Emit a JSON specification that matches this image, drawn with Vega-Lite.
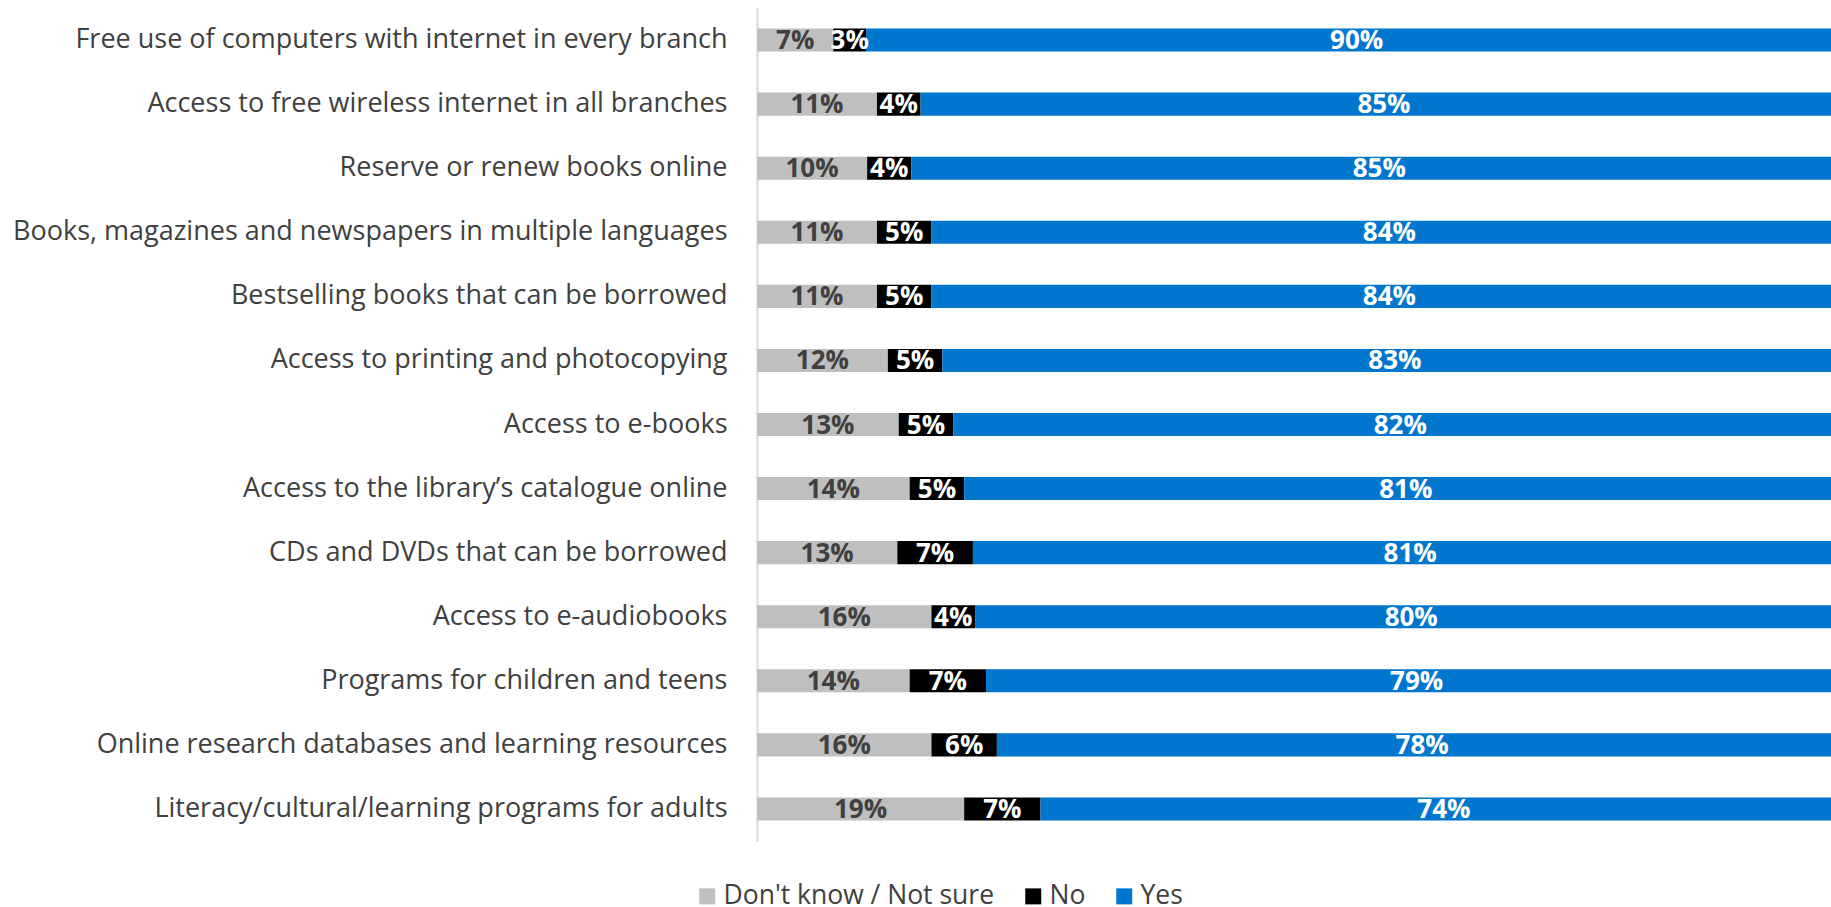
{
  "$schema": "https://vega.github.io/schema/vega-lite/v6.json",
  "autosize": {"type": "none"},
  "padding": {"left": 757, "top": 8, "right": 0, "bottom": 66},
  "width": 1074,
  "height": 833,
  "background": "white",
  "config": {
    "view": {"stroke": null},
    "font": "Open Sans"
  },
  "data": {
    "values": [
      {"item": "Free use of computers with internet in every branch", "answer": "Don't know / Not sure", "value": 0.07},
      {"item": "Free use of computers with internet in every branch", "answer": "No", "value": 0.03},
      {"item": "Free use of computers with internet in every branch", "answer": "Yes", "value": 0.90},
      {"item": "Access to free wireless internet in all branches", "answer": "Don't know / Not sure", "value": 0.11},
      {"item": "Access to free wireless internet in all branches", "answer": "No", "value": 0.04},
      {"item": "Access to free wireless internet in all branches", "answer": "Yes", "value": 0.85},
      {"item": "Reserve or renew books online", "answer": "Don't know / Not sure", "value": 0.10},
      {"item": "Reserve or renew books online", "answer": "No", "value": 0.04},
      {"item": "Reserve or renew books online", "answer": "Yes", "value": 0.85},
      {"item": "Books, magazines and newspapers in multiple languages", "answer": "Don't know / Not sure", "value": 0.11},
      {"item": "Books, magazines and newspapers in multiple languages", "answer": "No", "value": 0.05},
      {"item": "Books, magazines and newspapers in multiple languages", "answer": "Yes", "value": 0.84},
      {"item": "Bestselling books that can be borrowed", "answer": "Don't know / Not sure", "value": 0.11},
      {"item": "Bestselling books that can be borrowed", "answer": "No", "value": 0.05},
      {"item": "Bestselling books that can be borrowed", "answer": "Yes", "value": 0.84},
      {"item": "Access to printing and photocopying", "answer": "Don't know / Not sure", "value": 0.12},
      {"item": "Access to printing and photocopying", "answer": "No", "value": 0.05},
      {"item": "Access to printing and photocopying", "answer": "Yes", "value": 0.83},
      {"item": "Access to e-books", "answer": "Don't know / Not sure", "value": 0.13},
      {"item": "Access to e-books", "answer": "No", "value": 0.05},
      {"item": "Access to e-books", "answer": "Yes", "value": 0.82},
      {"item": "Access to the library’s catalogue online", "answer": "Don't know / Not sure", "value": 0.14},
      {"item": "Access to the library’s catalogue online", "answer": "No", "value": 0.05},
      {"item": "Access to the library’s catalogue online", "answer": "Yes", "value": 0.81},
      {"item": "CDs and DVDs that can be borrowed", "answer": "Don't know / Not sure", "value": 0.13},
      {"item": "CDs and DVDs that can be borrowed", "answer": "No", "value": 0.07},
      {"item": "CDs and DVDs that can be borrowed", "answer": "Yes", "value": 0.81},
      {"item": "Access to e-audiobooks", "answer": "Don't know / Not sure", "value": 0.16},
      {"item": "Access to e-audiobooks", "answer": "No", "value": 0.04},
      {"item": "Access to e-audiobooks", "answer": "Yes", "value": 0.80},
      {"item": "Programs for children and teens", "answer": "Don't know / Not sure", "value": 0.14},
      {"item": "Programs for children and teens", "answer": "No", "value": 0.07},
      {"item": "Programs for children and teens", "answer": "Yes", "value": 0.79},
      {"item": "Online research databases and learning resources", "answer": "Don't know / Not sure", "value": 0.16},
      {"item": "Online research databases and learning resources", "answer": "No", "value": 0.06},
      {"item": "Online research databases and learning resources", "answer": "Yes", "value": 0.78},
      {"item": "Literacy/cultural/learning programs for adults ", "answer": "Don't know / Not sure", "value": 0.19},
      {"item": "Literacy/cultural/learning programs for adults ", "answer": "No", "value": 0.07},
      {"item": "Literacy/cultural/learning programs for adults ", "answer": "Yes", "value": 0.74}
    ]
  },
  "transform": [
    {"stack": "value", "groupby": ["item"], "sort": [{"field": "answer", "order": "ascending"}], "offset": "normalize", "as": ["x0", "x1"]},
    {"calculate": "(datum.x0 + datum.x1) / 2", "as": "mid"}
  ],
  "encoding": {
    "y": {
      "field": "item",
      "type": "nominal",
      "sort": null,
      "scale": {"paddingInner": 0.64, "paddingOuter": 0.32},
      "axis": {
        "title": null,
        "ticks": false,
        "labelFontSize": 27,
        "labelColor": "#404040",
        "labelPadding": 30,
        "labelLimit": 0,
        "domain": true,
        "domainColor": "#D9D9D9",
        "domainWidth": 2
      }
    }
  },
  "layer": [
    {
      "mark": {"type": "bar", "clip": true},
      "encoding": {
        "x": {"field": "x0", "type": "quantitative", "scale": {"domain": [0, 0.985], "nice": false, "zero": true}, "axis": null},
        "x2": {"field": "x1"},
        "color": {
          "field": "answer",
          "type": "nominal",
          "scale": {"domain": ["Don't know / Not sure", "No", "Yes"], "range": ["#BFBFBF", "#000000", "#0176CE"]},
          "legend": {
            "title": null,
            "orient": "none",
            "legendX": -63,
            "legendY": 875,
            "direction": "horizontal",
            "symbolType": "square",
            "symbolSize": 256,
            "symbolStrokeWidth": 0,
            "labelFontSize": 26.5,
            "labelLimit": 0,
            "labelColor": "#404040",
            "labelOffset": 3,
            "columnPadding": 25,
            "padding": 0
          }
        }
      }
    },
    {
      "mark": {"type": "text", "fontSize": 26, "fontWeight": "bold", "align": "center", "baseline": "middle", "dy": 1},
      "encoding": {
        "x": {"field": "mid", "type": "quantitative"},
        "text": {"field": "value", "type": "quantitative", "format": ".0%"},
        "color": {
          "condition": {"test": "datum.answer === \"Don't know / Not sure\"", "value": "#404040"},
          "value": "#FFFFFF"
        }
      }
    }
  ]
}
